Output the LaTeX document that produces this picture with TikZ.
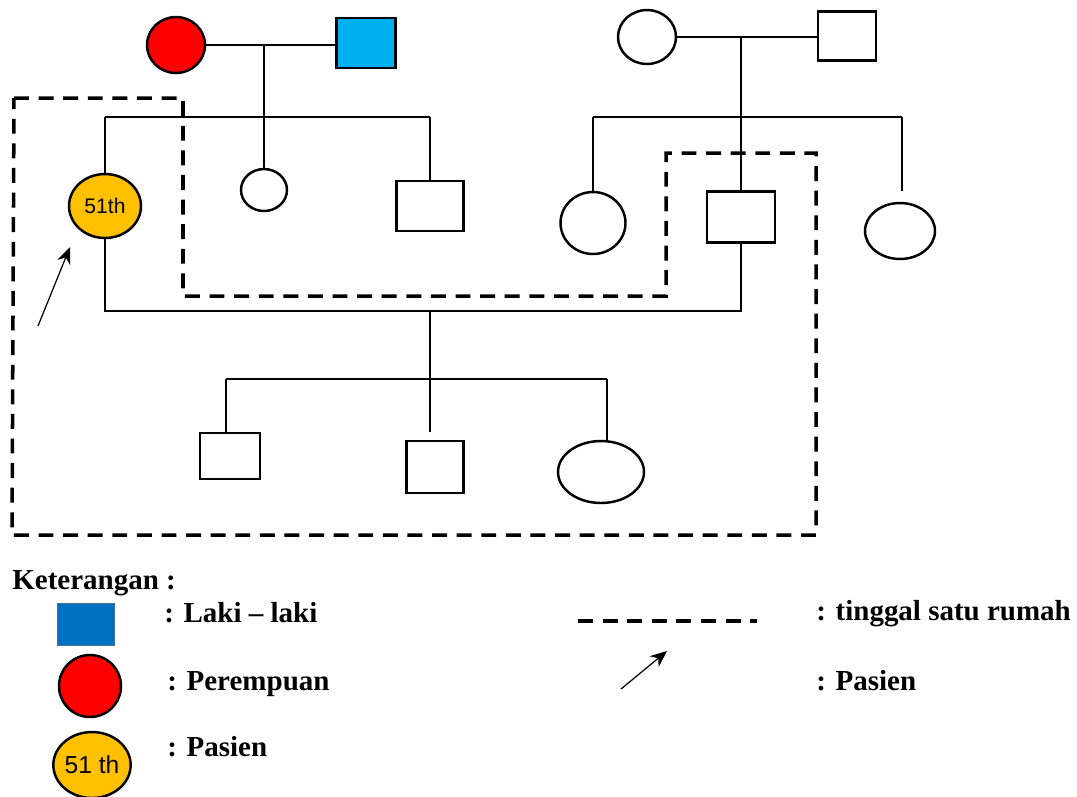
\documentclass[tikz,border=0pt]{standalone}
\usepackage{fontspec}
\setmainfont{Liberation Serif}
\newfontfamily\arialfont{Liberation Sans}
\usepackage{tikz}
\usetikzlibrary{shapes.geometric, arrows.meta, positioning, calc}
\definecolor{femred}{HTML}{FF0000}
\definecolor{malecyan}{HTML}{00B0F0}
\definecolor{pasienyellow}{HTML}{FFC000}
\definecolor{legendblue}{HTML}{0070C0}
\definecolor{legendedge}{HTML}{41719C}
\tikzstyle{female} = [ellipse, draw=black, line width=1.4pt, inner sep=0pt, fill=white]
\tikzstyle{male} = [rectangle, draw=black, line width=1.4pt, inner sep=0pt, fill=white]
\tikzstyle{line} = [draw=black, line width=0.6pt]
\tikzstyle{house} = [draw=black, line width=2pt, dash pattern=on 8.5pt off 5.5pt]
\tikzstyle{arrow} = [line width=0.7pt,-{Stealth[length=9.5pt,width=8pt]}]
\tikzstyle{legend} = [anchor=base west, inner sep=0pt, font=\fontsize{16.5}{19}\selectfont\bfseries]

\begin{document}
\begin{tikzpicture}[x=0.02cm, y=-0.02cm]
    \useasboundingbox (0,0) rectangle (1077,796);

    % House (tinggal satu rumah)
    \draw [house] (14,98) -- (183,98) -- (183,296) -- (666,296) -- (666,153) -- (816,153) -- (816,535) -- (12,535) -- cycle;

    % Father's parents
    \node (gma1) [female, fill=femred, minimum width=1.16cm, minimum height=1.12cm] at (176,45) {};
    \node (gpa1) [male, fill=malecyan, minimum width=1.18cm, minimum height=1cm] at (366,43) {};
    \coordinate (m1) at (264,45);
    \draw [line] (gma1.east) -- (gma1.east -| gpa1.west);

    % Father's siblings
    \coordinate (sib1l) at (105,117);
    \coordinate (sib1r) at (430,117);
    \node (pasien) [female, fill=pasienyellow, minimum width=1.44cm, minimum height=1.28cm, font=\arialfont\fontsize{12}{14}\selectfont] at (105,206) {51th};
    \node (aunt1) [female, minimum width=0.92cm, minimum height=0.84cm] at (264,190) {};
    \node (uncle1) [male, minimum width=1.34cm, minimum height=1cm] at (430,206) {};
    \draw [line] (sib1l) -- (sib1r);
    \draw [line] (m1) -- (aunt1.north);
    \draw [line] (sib1l) -- (pasien.north);
    \draw [line] (sib1r) -- (uncle1.north);

    % Mother's parents
    \node (gma2) [female, minimum width=1.16cm, minimum height=1.08cm] at (647,37) {};
    \node (gpa2) [male, minimum width=1.16cm, minimum height=0.98cm] at (847,36) {};
    \coordinate (m2) at (741,36);
    \draw [line] (gma2.east) -- (gma2.east -| gpa2.west);

    % Mother's siblings
    \coordinate (sib2l) at (593,117);
    \coordinate (sib2r) at (902,117);
    \node (aunt2) [female, minimum width=1.3cm, minimum height=1.24cm] at (593,223) {};
    \node (father) [male, minimum width=1.36cm, minimum height=1.02cm] at (741,217) {};
    \node (aunt3) [female, minimum width=1.4cm, minimum height=1.12cm] at (900,231) {};
    \draw [line] (sib2l) -- (sib2r);
    \draw [line] (m2) -- (father.north);
    \draw [line] (sib2l) -- (aunt2.north);
    \draw [line] (sib2r) -- (sib2r |- aunt2.north);

    % Marriage and children
    \coordinate (m3) at (430,311);
    \coordinate (sib3l) at (226,379);
    \coordinate (sib3r) at (607,379);
    \coordinate (c2top) at (430,432);
    \node (child1) [male, minimum width=1.2cm, minimum height=0.92cm] at (230,456) {};
    \node (child2) [male, minimum width=1.14cm, minimum height=1.04cm] at (435,467) {};
    \node (child3) [female, minimum width=1.72cm, minimum height=1.24cm] at (601,472) {};
    \draw [line] (pasien.south) |- (father.south |- m3) -- (father.south);
    \draw [line] (m3) -- (c2top);
    \draw [line] (sib3l) -- (sib3r);
    \draw [line] (sib3l) -- (sib3l |- child1.north);
    \draw [line] (sib3r) -- (sib3r |- child3.north);

    % Patient arrow
    \coordinate (arr1) at (38,326);
    \coordinate (arr1tip) at (70,247);
    \draw [arrow] (arr1) -- (arr1tip);

    % Legend
    \node (ket) [legend] at (12,589) {Keterangan :};
    \node (lgmale) [rectangle, draw=legendedge, fill=legendblue, line width=0.4pt, minimum width=1.14cm, minimum height=0.84cm] at (86,624) {};
    \node (lgmaletxt) [legend] at (164,622) {: Laki -- laki};
    \node (lgfemale) [female, fill=femred, minimum width=1.24cm, minimum height=1.24cm] at (90,686) {};
    \node (lgfemaletxt) [legend] at (167,690) {: Perempuan};
    \node (lgpasien) [female, fill=pasienyellow, minimum width=1.36cm, minimum height=1.32cm, font=\arialfont\fontsize{14}{16}\selectfont] at (92,765) {51 th};
    \node (lgpasientxt) [legend] at (167,756) {: Pasien};
    \coordinate (lgdashl) at (578,621);
    \coordinate (lgdashr) at (757,621);
    \draw [house] (lgdashl) -- (lgdashr);
    \node (lghousetxt) [legend] at (816,620) {: tinggal satu rumah};
    \coordinate (lgarr) at (621,689);
    \coordinate (lgarrtip) at (667,651);
    \draw [arrow] (lgarr) -- (lgarrtip);
    \node (lgarrtxt) [legend] at (816,690) {: Pasien};
\end{tikzpicture}
\end{document}
